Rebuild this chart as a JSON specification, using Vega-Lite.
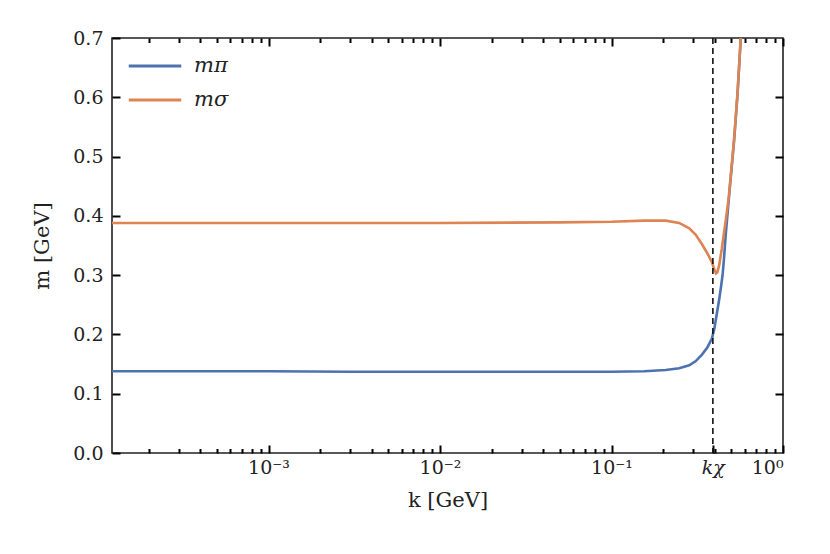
{
  "$schema": "https://vega.github.io/schema/vega-lite/v6.json",
  "autosize": "none",
  "padding": {"left": 112, "top": 38, "right": 47, "bottom": 101},
  "width": 671,
  "height": 415,
  "config": {
    "view": {"stroke": "#222", "strokeWidth": 1.6},
    "axis": {
      "domain": false,
      "grid": false,
      "tickColor": "black",
      "tickWidth": 2,
      "labelFont": "DejaVu Serif",
      "labelFontSize": 19,
      "labelColor": "#222",
      "titleFont": "DejaVu Serif",
      "titleFontSize": 21,
      "titleFontWeight": "normal",
      "titleColor": "#222"
    }
  },
  "datasets": {
    "curves": [
      {"k": 0.000122, "m": 0.138, "s": "mπ"},
      {"k": 0.0003, "m": 0.138, "s": "mπ"},
      {"k": 0.001, "m": 0.138, "s": "mπ"},
      {"k": 0.003, "m": 0.137, "s": "mπ"},
      {"k": 0.01, "m": 0.137, "s": "mπ"},
      {"k": 0.03, "m": 0.137, "s": "mπ"},
      {"k": 0.1, "m": 0.137, "s": "mπ"},
      {"k": 0.155, "m": 0.138, "s": "mπ"},
      {"k": 0.207, "m": 0.140, "s": "mπ"},
      {"k": 0.248, "m": 0.143, "s": "mπ"},
      {"k": 0.284, "m": 0.148, "s": "mπ"},
      {"k": 0.31, "m": 0.155, "s": "mπ"},
      {"k": 0.337, "m": 0.166, "s": "mπ"},
      {"k": 0.362, "m": 0.178, "s": "mπ"},
      {"k": 0.385, "m": 0.193, "s": "mπ"},
      {"k": 0.398, "m": 0.21, "s": "mπ"},
      {"k": 0.412, "m": 0.236, "s": "mπ"},
      {"k": 0.424, "m": 0.258, "s": "mπ"},
      {"k": 0.435, "m": 0.28, "s": "mπ"},
      {"k": 0.445, "m": 0.302, "s": "mπ"},
      {"k": 0.452, "m": 0.325, "s": "mπ"},
      {"k": 0.464, "m": 0.37, "s": "mπ"},
      {"k": 0.483, "m": 0.428, "s": "mπ"},
      {"k": 0.518, "m": 0.525, "s": "mπ"},
      {"k": 0.543, "m": 0.605, "s": "mπ"},
      {"k": 0.566, "m": 0.695, "s": "mπ"},
      {"k": 0.58, "m": 0.745, "s": "mπ"},
      {"k": 0.000122, "m": 0.388, "s": "mσ"},
      {"k": 0.001, "m": 0.388, "s": "mσ"},
      {"k": 0.01, "m": 0.388, "s": "mσ"},
      {"k": 0.05, "m": 0.389, "s": "mσ"},
      {"k": 0.1, "m": 0.390, "s": "mσ"},
      {"k": 0.155, "m": 0.392, "s": "mσ"},
      {"k": 0.207, "m": 0.392, "s": "mσ"},
      {"k": 0.248, "m": 0.388, "s": "mσ"},
      {"k": 0.284, "m": 0.379, "s": "mσ"},
      {"k": 0.31, "m": 0.368, "s": "mσ"},
      {"k": 0.337, "m": 0.352, "s": "mσ"},
      {"k": 0.362, "m": 0.337, "s": "mσ"},
      {"k": 0.385, "m": 0.322, "s": "mσ"},
      {"k": 0.398, "m": 0.309, "s": "mσ"},
      {"k": 0.407, "m": 0.303, "s": "mσ"},
      {"k": 0.414, "m": 0.305, "s": "mσ"},
      {"k": 0.424, "m": 0.316, "s": "mσ"},
      {"k": 0.44, "m": 0.345, "s": "mσ"},
      {"k": 0.452, "m": 0.37, "s": "mσ"},
      {"k": 0.464, "m": 0.393, "s": "mσ"},
      {"k": 0.483, "m": 0.432, "s": "mσ"},
      {"k": 0.518, "m": 0.528, "s": "mσ"},
      {"k": 0.543, "m": 0.607, "s": "mσ"},
      {"k": 0.566, "m": 0.697, "s": "mσ"},
      {"k": 0.58, "m": 0.747, "s": "mσ"}
    ],
    "kchi": [{"k": 0.39}]
  },
  "layer": [
    {
      "data": {"name": "curves"},
      "mark": {"type": "line", "strokeWidth": 2.6, "clip": true},
      "encoding": {
        "x": {
          "field": "k", "type": "quantitative",
          "scale": {"type": "log", "domain": [0.0001223, 1], "nice": false},
          "axis": {
            "orient": "bottom", "title": "k [GeV]", "titlePadding": 12, "tickSize": 8, "offset": -8, "labelPadding": 5,
            "values": [0.001, 0.01, 0.1, 0.39, 1],
            "labelExpr": "datum.value > 0.3 && datum.value < 0.5 ? 'kχ' : datum.value < 0.005 ? '10⁻³' : datum.value < 0.05 ? '10⁻²' : datum.value < 0.5 ? '10⁻¹' : '10⁰'",
            "labelFontStyle": {"condition": {"test": "datum.value > 0.3 && datum.value < 0.5", "value": "italic"}, "value": "normal"}
          }
        },
        "y": {
          "field": "m", "type": "quantitative",
          "scale": {"domain": [0, 0.7], "nice": false},
          "axis": {
            "orient": "left", "title": "m [GeV]", "titlePadding": 20, "tickSize": 8, "offset": -8, "labelPadding": 9,
            "values": [0, 0.1, 0.2, 0.3, 0.4, 0.5, 0.6, 0.7], "format": ".1f"
          }
        },
        "color": {
          "field": "s", "type": "nominal",
          "scale": {"domain": ["mπ", "mσ"], "range": ["#4c72b0", "#dd8452"]},
          "legend": {
            "title": null, "orient": "none", "legendX": 24, "legendY": 9,
            "symbolType": "M-1.5,0H1.5", "symbolSize": 1225, "symbolStrokeWidth": 2.8,
            "labelFont": "DejaVu Serif", "labelFontStyle": "italic", "labelFontSize": 21,
            "labelColor": "#222", "labelOffset": 20, "rowPadding": 5
          }
        }
      }
    },
    {
      "data": {"name": "curves"},
      "mark": {"type": "line", "strokeOpacity": 0},
      "encoding": {
        "x": {
          "field": "k", "type": "quantitative",
          "axis": {"orient": "top", "labels": false, "title": null, "tickSize": 8, "offset": -8, "values": [0.001, 0.01, 0.1, 1]}
        },
        "y": {
          "field": "m", "type": "quantitative",
          "axis": {"orient": "right", "labels": false, "title": null, "tickSize": 8, "offset": -8, "values": [0.1, 0.2, 0.3, 0.4, 0.5, 0.6]}
        },
        "detail": {"field": "s"}
      }
    },
    {
      "data": {"name": "kchi"},
      "mark": {"type": "rule", "color": "#111", "strokeWidth": 1.6, "strokeDash": [6, 4]},
      "encoding": {
        "x": {
          "field": "k", "type": "quantitative",
          "axis": {
            "orient": "bottom", "labels": false, "title": null, "tickSize": 4.5, "offset": -4.5,
            "values": [0.0002, 0.0003, 0.0004, 0.0005, 0.0006, 0.0007, 0.0008, 0.0009, 0.002, 0.003, 0.004, 0.005, 0.006, 0.007, 0.008, 0.009, 0.02, 0.03, 0.04, 0.05, 0.06, 0.07, 0.08, 0.09, 0.2, 0.3, 0.4, 0.5, 0.6, 0.7, 0.8, 0.9]
          }
        }
      }
    },
    {
      "data": {"name": "kchi"},
      "mark": {"type": "rule", "strokeOpacity": 0},
      "encoding": {
        "x": {
          "field": "k", "type": "quantitative",
          "axis": {
            "orient": "top", "labels": false, "title": null, "tickSize": 4.5, "offset": -4.5,
            "values": [0.0002, 0.0003, 0.0004, 0.0005, 0.0006, 0.0007, 0.0008, 0.0009, 0.002, 0.003, 0.004, 0.005, 0.006, 0.007, 0.008, 0.009, 0.02, 0.03, 0.04, 0.05, 0.06, 0.07, 0.08, 0.09, 0.2, 0.3, 0.4, 0.5, 0.6, 0.7, 0.8, 0.9]
          }
        }
      }
    }
  ],
  "resolve": {"axis": {"x": "independent", "y": "independent"}}
}
